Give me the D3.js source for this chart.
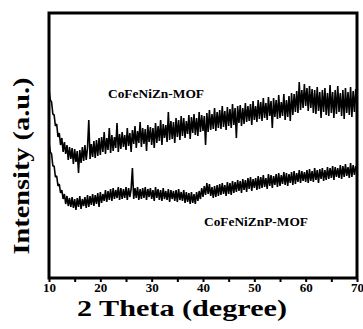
<!DOCTYPE html>
<html>
<head>
<meta charset="utf-8">
<script src="https://cdn.jsdelivr.net/npm/d3@7/dist/d3.min.js"></script>
<style>
  body { margin: 0; background: #fff; }
  text { font-family: "Liberation Serif", "Times New Roman", serif; font-weight: bold; fill: #000; }
</style>
</head>
<body>
<div id="chart"></div>
<script>
// 2 theta grid: 10 to 70 degrees, step 0.25
const thetaStart = 10;
const thetaStep = 0.25;

// CoFeNiZn-MOF intensity (a.u.)
const znMof = [
  189,178,176,164, 163,152,154,141, 145,133,140,126, 136,124,133,118,
  131,119,130,114, 129,116,127,105, 128,115,131,117, 133,118,130,158,
  119,134,121,137, 120,138,122,140, 123,141,126,146, 124,140,128,150,
  125,143,127,141, 130,155,126,144, 129,146,131,143, 128,150,132,145,
  126,148,134,152, 130,147,135,156, 131,150,134,149, 127,153,136,151,
  133,150,130,155, 135,152,137,158, 133,154,140,153, 136,166,138,157,
  139,156,135,160, 141,158,138,162, 142,160,140,157, 144,163,139,161,
  145,164,143,160, 142,166,146,163, 147,162,133,165, 146,168,148,164,
  149,170,147,166, 150,168,149,172, 151,167,148,171, 152,169,150,174,
  153,170,140,172, 155,173,152,170, 154,175,156,172, 157,174,153,177,
  158,172,156,178, 159,176,157,180, 160,175,158,181, 162,177,150,180,
  161,178,159,183, 160,176,162,184, 158,178,161,182, 157,185,163,184,
  166,187,165,196, 168,188,170,194, 172,190,167,192, 170,189,165,188,
  164,191,167,186, 160,188,166,190, 163,185,162,193, 165,186,160,188,
  164,192,166,185, 162,188,159,190, 165,186,163,191, 161,187,166,189,
  170
];

// CoFeNiZnP-MOF intensity (a.u.)
const znpMof = [
  136,126,124,112, 112,101,102,92, 94,85,88,79, 84,74,82,72,
  80,71,81,70, 79,68,80,71, 82,69,79,72, 81,70,83,71,
  82,73,84,72, 83,74,85,71, 86,75,84,77, 88,76,87,78,
  89,77,90,79, 88,80,91,78, 90,79,89,80, 91,78,90,81,
  89,110,79,90, 80,91,78,89, 79,90,80,91, 78,89,81,90,
  79,88,77,91, 80,89,78,88, 77,90,79,87, 78,89,76,88,
  79,87,77,88, 76,89,78,86, 77,88,75,86, 76,85,74,86,
  75,84,74,86, 77,87,79,90, 81,92,83,95, 84,94,82,91,
  80,92,81,93, 82,94,83,95, 84,93,82,96, 84,95,83,97,
  85,96,86,98, 87,97,85,99, 88,98,86,100, 89,101,87,99,
  90,100,88,102, 89,101,90,103, 91,100,89,104, 92,103,90,102,
  93,104,91,105, 92,103,94,106, 93,105,92,104, 95,106,93,107,
  94,105,96,108, 95,107,97,106, 96,108,95,109, 97,107,96,110,
  98,108,95,109, 99,110,97,108, 98,111,99,110, 100,112,98,111,
  101,110,100,113, 99,112,101,114, 102,111,100,115, 101,113,103,112,
  106
];

const majorTicks = [10, 20, 30, 40, 50, 60, 70];
const minorTicks = [15, 25, 35, 45, 55, 65];

const width = 363, height = 329;
const margin = { top: 13, right: 6, bottom: 51, left: 49 };
const plotW = width - margin.left - margin.right;
const plotH = height - margin.top - margin.bottom;

const svg = d3.select('#chart').append('svg')
  .attr('width', width)
  .attr('height', height);

const x = d3.scaleLinear().domain([10, 70]).range([margin.left, margin.left + plotW]);
const y = d3.scaleLinear().domain([0, 265]).range([margin.top + plotH, margin.top]);

const line = d3.line()
  .x((d, i) => x(thetaStart + i * thetaStep))
  .y(d => y(d));

[znMof, znpMof].forEach(series => {
  svg.append('path')
    .datum(series)
    .attr('fill', 'none')
    .attr('stroke', '#000')
    .attr('stroke-width', 1.6)
    .attr('stroke-linejoin', 'bevel')
    .attr('d', line);
});

// frame
svg.append('rect')
  .attr('x', margin.left)
  .attr('y', margin.top)
  .attr('width', plotW)
  .attr('height', plotH)
  .attr('fill', 'none')
  .attr('stroke', '#000')
  .attr('stroke-width', 3);

// bottom axis
const xAxis = d3.axisBottom(x)
  .tickValues(majorTicks)
  .tickSize(3)
  .tickPadding(1)
  .tickFormat(d3.format('d'));

const gx = svg.append('g')
  .attr('transform', `translate(0,${margin.top + plotH + 1})`)
  .call(xAxis);
gx.select('.domain').remove();
gx.selectAll('.tick line').attr('stroke', '#000').attr('stroke-width', 2);
gx.selectAll('.tick text')
  .attr('font-size', 13)
  .attr('font-family', '"Liberation Serif", serif')
  .attr('font-weight', 'bold');

svg.append('g')
  .attr('transform', `translate(0,${margin.top + plotH + 1})`)
  .call(d3.axisBottom(x).tickValues(minorTicks).tickSize(3).tickFormat(''))
  .call(g => g.select('.domain').remove())
  .selectAll('.tick line').attr('stroke', '#000').attr('stroke-width', 2);

// axis titles
svg.append('text')
  .attr('x', 182)
  .attr('y', 316)
  .attr('text-anchor', 'middle')
  .attr('font-size', 24)
  .attr('textLength', 210)
  .attr('lengthAdjust', 'spacingAndGlyphs')
  .text('2 Theta (degree)');

svg.append('text')
  .attr('transform', 'translate(29,166) rotate(-90)')
  .attr('text-anchor', 'middle')
  .attr('font-size', 23)
  .attr('textLength', 177)
  .attr('lengthAdjust', 'spacingAndGlyphs')
  .text('Intensity (a.u.)');

// series labels
svg.append('text')
  .attr('x', 108)
  .attr('y', 98)
  .attr('font-size', 13)
  .attr('textLength', 96)
  .attr('lengthAdjust', 'spacingAndGlyphs')
  .text('CoFeNiZn-MOF');

svg.append('text')
  .attr('x', 204)
  .attr('y', 226)
  .attr('font-size', 13)
  .attr('textLength', 104)
  .attr('lengthAdjust', 'spacingAndGlyphs')
  .text('CoFeNiZnP-MOF');
</script>
</body>
</html>
